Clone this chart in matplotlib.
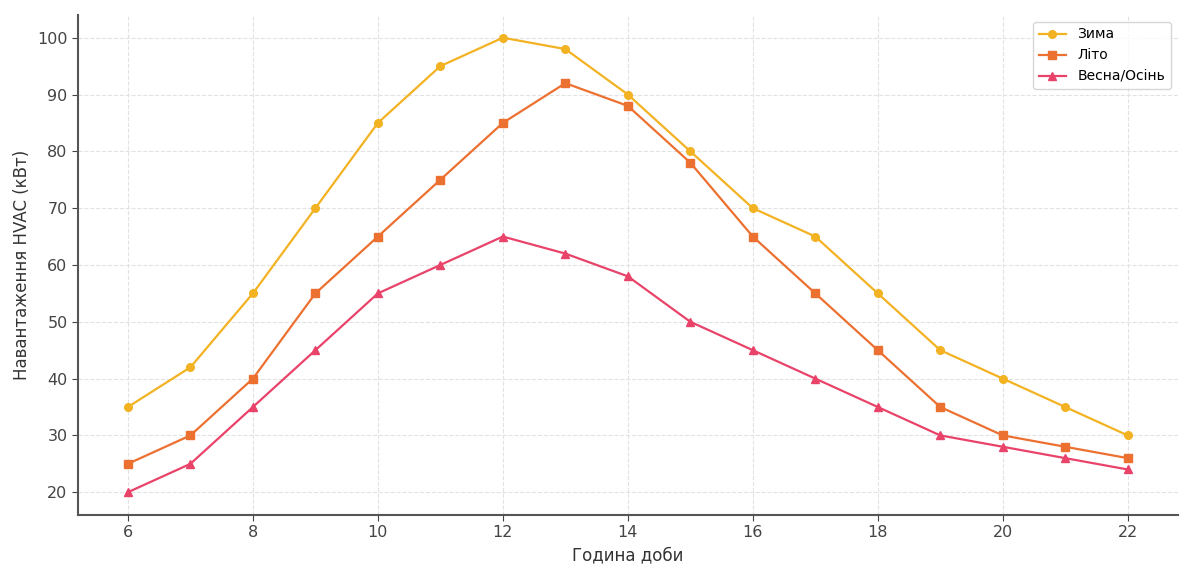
import matplotlib.pyplot as plt

hours = list(range(6, 23))
winter = [35, 42, 55, 70, 85, 95, 100, 98, 90, 80, 70, 65, 55, 45, 40, 35, 30]
summer = [25, 30, 40, 55, 65, 75, 85, 92, 88, 78, 65, 55, 45, 35, 30, 28, 26]
spring_autumn = [20, 25, 35, 45, 55, 60, 65, 62, 58, 50, 45, 40, 35, 30, 28, 26, 24]

fig = plt.figure(figsize=(11.92, 5.76), dpi=100)
ax = fig.add_axes([0.0654, 0.106, 0.9226, 0.868])

ax.plot(hours, winter, color='#f3b222', marker='o', markersize=5.5, linewidth=1.6, label='Зима')
ax.plot(hours, summer, color='#ec7030', marker='s', markersize=5.5, linewidth=1.6, label='Літо')
ax.plot(hours, spring_autumn, color='#e9436a', marker='^', markersize=5.5, linewidth=1.6, label='Весна/Осінь')

ax.grid(True, linestyle='--', color='#e2e2e2', linewidth=0.8)
ax.set_xticks(range(6, 23, 2))
ax.set_yticks(range(20, 101, 10))
for s in ['top', 'right']:
    ax.spines[s].set_visible(False)
for s in ['left', 'bottom']:
    ax.spines[s].set_color('#555555')
    ax.spines[s].set_linewidth(1.5)
ax.tick_params(colors='#444444', labelsize=11.5, length=4)
ax.set_xlabel('Година доби', fontsize=12, color='#333333')
ax.set_ylabel('Навантаження HVAC (кВт)', fontsize=12, color='#333333')
ax.legend(loc='upper right', fontsize=10, frameon=True)

fig.savefig('out.png', dpi=100)
